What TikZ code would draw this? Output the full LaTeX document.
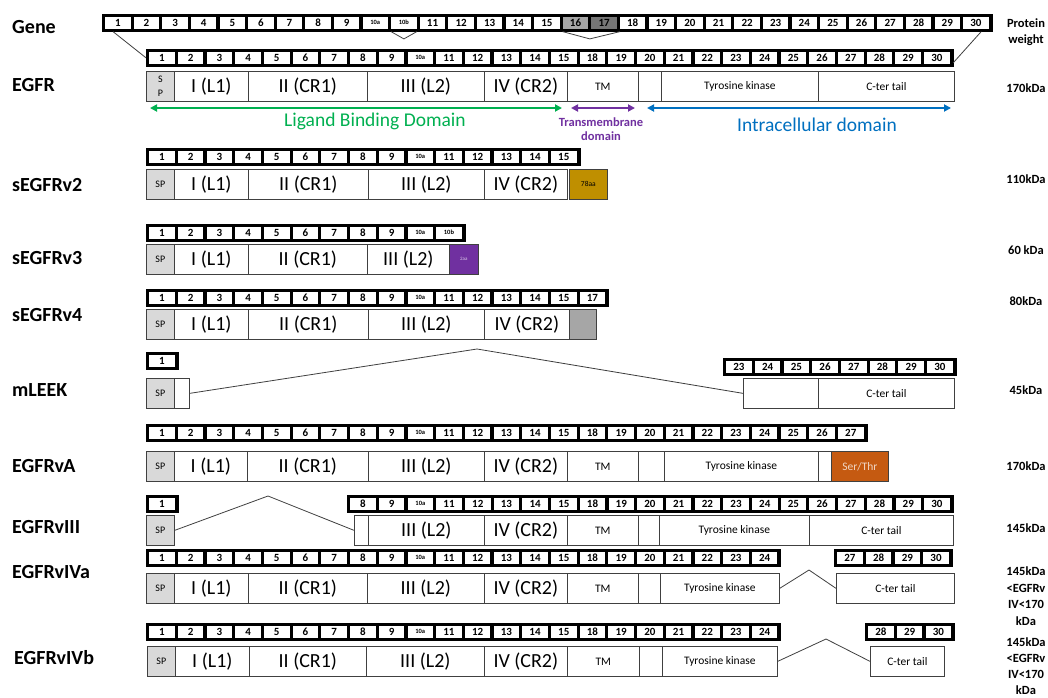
\documentclass[tikz,border=0pt]{standalone}
\usepackage{fontspec}
\setmainfont{Carlito}
\usetikzlibrary{arrows.meta,calc}
\definecolor{lbdgreen}{HTML}{00B050}
\definecolor{tmpurple}{HTML}{7030A0}
\definecolor{icblue}{HTML}{0070C0}
\definecolor{spgray}{HTML}{D9D9D9}
\definecolor{goldbox}{HTML}{BF8F00}
\definecolor{purplebox}{HTML}{7030A0}
\definecolor{graybox}{HTML}{A6A6A6}
\definecolor{serthr}{HTML}{C55A11}
\definecolor{exsixteen}{HTML}{A6A6A6}
\definecolor{exseventeen}{HTML}{767676}
\definecolor{boxline}{HTML}{404040}

\newcommand{\fs}[1]{\fontsize{#1}{#1}\selectfont}
\newcommand{\xa}{{\fs{6.5}10a}}
\newcommand{\xb}{{\fs{6.5}10b}}

\tikzset{
  stripbg/.style={draw=black, fill=black, line width=0.6pt, inner sep=0pt, minimum height=17pt},
  cell/.style={fill=white, inner sep=0pt, minimum height=12pt, font=\fs{11}\bfseries},
  dom/.style={draw=boxline, line width=0.7pt, fill=white, inner sep=0pt, minimum height=30pt, font=\fs{11.5}, align=center},
  big/.style={font=\fs{20}},
  spbox/.style={fill=spgray, font=\fs{10}},
  rowlab/.style={anchor=west, font=\fs{20}\bfseries, inner sep=0pt},
  kda/.style={font=\fontsize{12.5}{16.5}\selectfont\bfseries, inner sep=0pt, align=center},
  splice/.style={draw=boxline, line width=0.8pt},
  domarrow/.style={line width=2pt, {Triangle[length=7pt,width=7pt]}-{Triangle[length=7pt,width=7pt]}},
  gene cell 17/.style={fill=exsixteen},
  gene cell 18/.style={fill=exseventeen},
}

% #1 name, #2 x0, #3 ytop, #4 pitch, #5 labels
\newcommand{\exstrip}[5]{%
  \foreach \lab [count=\k] in {#5} {\xdef\ncells{\k}}%
  \node[stripbg, minimum width={\ncells*#4+3}, anchor=north west] (#1) at (#2,#3) {};%
  \foreach \lab [count=\k] in {#5} {%
    \edef\tmpcmd{\noexpand\node[cell, minimum width={#4-3.2}, anchor=north west, #1 cell \k/.try] (#1-\k) at ({#2+3+(\k-1)*#4},{#3+2.5})}%
    \tmpcmd {\lab};%
  }%
}
% [opts] name x1 x2 ytop text
\newcommand{\dbox}[6][]{\node[dom, #1, minimum width={#4-#3}, anchor=north west] (#2) at (#3,#5) {#6};}

\begin{document}
\begin{tikzpicture}[x=1pt,y=-1pt]
\fill[white] (0,0) rectangle (1048,697);
\useasboundingbox (0,0) rectangle (1048,697);

% row labels
\node[rowlab] (l-gene) at (12,27) {Gene};
\node[rowlab] (l-egfr) at (12,85) {EGFR};
\node[rowlab] (l-v2) at (12,185) {sEGFRv2};
\node[rowlab] (l-v3) at (12,258) {sEGFRv3};
\node[rowlab] (l-v4) at (12,315) {sEGFRv4};
\node[rowlab] (l-lk) at (12,390) {mLEEK};
\node[rowlab] (l-va) at (12,466) {EGFRvA};
\node[rowlab] (l-v8) at (12,527) {EGFRvIII};
\node[rowlab] (l-iva) at (12,572) {EGFRvIVa};
\node[rowlab] (l-ivb) at (14,658) {EGFRvIVb};

% right labels
\node[kda] (w-head) at (1026,32) {Protein\\weight};
\node[kda] (w-egfr) at (1026,88) {170kDa};
\node[kda] (w-v2) at (1026,179) {110kDa};
\node[kda] (w-v3) at (1026,250) {60 kDa};
\node[kda] (w-v4) at (1026,301) {80kDa};
\node[kda] (w-lk) at (1026,390) {45kDa};
\node[kda] (w-va) at (1026,466) {170kDa};
\node[kda] (w-v8) at (1026,528) {145kDa};
\node[kda] (w-iva) at (1026,596) {145kDa\\<EGFRv\\IV<170\\kDa};
\node[kda, font=\fontsize{12.5}{16}\selectfont\bfseries] (w-ivb) at (1026,666) {145kDa\\<EGFRv\\IV<170\\kDa};

% ---------- Gene ----------
\exstrip{gene}{102}{14}{28.6}{1,2,3,4,5,6,7,8,9,\xa,\xb,11,12,13,14,15,16,17,18,19,20,21,22,23,24,25,26,27,28,29,30}

% ---------- EGFR ----------
\exstrip{egfr}{146}{49}{28.7}{1,2,3,4,5,6,7,8,9,\xa,11,12,13,14,15,18,19,20,21,22,23,24,25,26,27,28,29,30}
\dbox[spbox, font=\fontsize{10}{14}\selectfont]{e-sp}{146}{174}{71}{S\\P}
\dbox[big]{e-1}{174}{248}{71}{I (L1)}
\dbox[big]{e-2}{248}{367}{71}{II (CR1)}
\dbox[big]{e-3}{367}{484}{71}{III (L2)}
\dbox[big]{e-4}{484}{567}{71}{IV (CR2)}
\dbox{e-tm}{567}{638}{71}{TM}
\dbox{e-b}{638}{661}{71}{}
\dbox{e-tk}{661}{818}{71}{Tyrosine kinase}
\dbox{e-ct}{818}{954}{71}{C-ter tail}

\draw[splice] ($(gene.south west)+(11,0)$) -- (egfr.west);
\draw[splice] ($(gene.south east)+(-11,0)$) -- ($(egfr.east)+(0,5)$);
\draw[splice] (gene-11.south west |- gene.south) -- ($(gene-11.south)+(0,10)$) -- (gene-11.south east |- gene.south);
\draw[splice] (gene-17.south west |- gene.south) -- ($(gene-17.south east)!0.5!(gene-18.south west)+(0,10)$) -- ($(gene-18.south east |- gene.south)+(3,0)$);

\coordinate (lbd-l) at (150,108);
\coordinate (lbd-r) at (562,108);
\coordinate (tmd-l) at (571,108);
\coordinate (tmd-r) at (635,108);
\coordinate (icd-l) at (647,108);
\coordinate (icd-r) at (951,108);
\draw[domarrow, lbdgreen] (lbd-l) -- (lbd-r);
\draw[domarrow, tmpurple] (tmd-l) -- (tmd-r);
\draw[domarrow, icblue] (icd-l) -- (icd-r);
\node[text=lbdgreen, font=\fs{19.5}, inner sep=0pt] (lbd) at (375,121) {Ligand Binding Domain};
\node[text=tmpurple, font=\fontsize{12.5}{14}\selectfont\bfseries, align=center, inner sep=0pt] (tmd) at (601,129) {Transmembrane\\domain};
\node[text=icblue, font=\fs{19.5}, inner sep=0pt] (icd) at (817,125) {Intracellular domain};

% ---------- sEGFRv2 ----------
\exstrip{vtwo}{146}{148}{28.7}{1,2,3,4,5,6,7,8,9,\xa,11,12,13,14,15}
\dbox[spbox]{v2-sp}{146}{174}{169}{SP}
\dbox[big]{v2-1}{174}{248}{169}{I (L1)}
\dbox[big]{v2-2}{248}{368}{169}{II (CR1)}
\dbox[big]{v2-3}{368}{484}{169}{III (L2)}
\dbox[big]{v2-4}{484}{567}{169}{IV (CR2)}
\dbox[fill=goldbox, font=\fs{7.5}]{v2-x}{569}{607}{169}{78aa}

% ---------- sEGFRv3 ----------
\exstrip{vthree}{146}{224}{28.7}{1,2,3,4,5,6,7,8,9,\xa,\xb}
\dbox[spbox]{v3-sp}{146}{174}{244}{SP}
\dbox[big]{v3-1}{174}{248}{244}{I (L1)}
\dbox[big]{v3-2}{248}{367}{244}{II (CR1)}
\dbox[big]{v3-3}{367}{449}{244}{III (L2)}
\dbox[fill=purplebox, text=white!75!purplebox, font=\fs{5}]{v3-x}{449}{478}{244}{2aa}

% ---------- sEGFRv4 ----------
\exstrip{vfour}{146}{289}{28.7}{1,2,3,4,5,6,7,8,9,\xa,11,12,13,14,15,17}
\dbox[spbox]{v4-sp}{146}{174}{309}{SP}
\dbox[big]{v4-1}{174}{248}{309}{I (L1)}
\dbox[big]{v4-2}{248}{368}{309}{II (CR1)}
\dbox[big]{v4-3}{368}{484}{309}{III (L2)}
\dbox[big]{v4-4}{484}{569}{309}{IV (CR2)}
\dbox[fill=graybox]{v4-x}{569}{596}{309}{}

% ---------- mLEEK ----------
\exstrip{lkone}{146}{352}{28.7}{1}
\exstrip{lktwo}{723}{358}{28.7}{23,24,25,26,27,28,29,30}
\dbox[spbox]{lk-sp}{146}{174}{378}{SP}
\dbox{lk-b1}{174}{189}{378}{}
\dbox{lk-b2}{743}{818}{378}{}
\dbox{lk-ct}{818}{954}{378}{C-ter tail}
\coordinate (lk-apex) at (477,349);
\draw[splice] (lk-b1.east) -- (lk-apex) -- (lk-b2.west);

% ---------- EGFRvA ----------
\exstrip{va}{146}{424}{28.7}{1,2,3,4,5,6,7,8,9,\xa,11,12,13,14,15,18,19,20,21,22,23,24,25,26,27}
\dbox[spbox]{va-sp}{146}{174}{451}{SP}
\dbox[big]{va-1}{174}{247}{451}{I (L1)}
\dbox[big]{va-2}{247}{368}{451}{II (CR1)}
\dbox[big]{va-3}{368}{484}{451}{III (L2)}
\dbox[big]{va-4}{484}{567}{451}{IV (CR2)}
\dbox{va-tm}{567}{638}{451}{TM}
\dbox{va-b}{638}{664}{451}{}
\dbox{va-tk}{664}{818}{451}{Tyrosine kinase}
\dbox{va-b2}{818}{831}{451}{}
\dbox[fill=serthr, text=white!75!serthr]{va-st}{831}{888}{451}{Ser/Thr}

% ---------- EGFRvIII ----------
\exstrip{viiione}{146}{495}{28.7}{1}
\exstrip{viii}{347}{495}{28.7}{8,9,\xa,11,12,13,14,15,18,19,20,21,22,23,24,25,26,27,28,29,30}
\dbox[spbox]{v8-sp}{146}{174}{515}{SP}
\dbox{v8-b}{354}{368}{515}{}
\dbox[big]{v8-3}{368}{484}{515}{III (L2)}
\dbox[big]{v8-4}{484}{567}{515}{IV (CR2)}
\dbox{v8-tm}{567}{638}{515}{TM}
\dbox{v8-b2}{638}{659}{515}{}
\dbox{v8-tk}{659}{809}{515}{Tyrosine kinase}
\dbox{v8-ct}{809}{953}{515}{C-ter tail}
\coordinate (v8-apex) at (268,496);
\draw[splice] (v8-sp.east) -- (v8-apex) -- (v8-b.west);

% ---------- EGFRvIVa ----------
\exstrip{ivaone}{146}{549}{28.7}{1,2,3,4,5,6,7,8,9,\xa,11,12,13,14,15,18,19,20,21,22,23,24}
\exstrip{ivatwo}{834}{549}{28.7}{27,28,29,30}
\dbox[spbox]{a-sp}{146}{174}{573}{SP}
\dbox[big]{a-1}{174}{248}{573}{I (L1)}
\dbox[big]{a-2}{248}{367}{573}{II (CR1)}
\dbox[big]{a-3}{367}{484}{573}{III (L2)}
\dbox[big]{a-4}{484}{567}{573}{IV (CR2)}
\dbox{a-tm}{567}{638}{573}{TM}
\dbox{a-b}{638}{660}{573}{}
\dbox{a-tk}{660}{779}{573}{Tyrosine kinase}
\dbox{a-ct}{836}{954}{573}{C-ter tail}
\coordinate (a-apex) at (809,570);
\draw[splice] (a-tk.east) -- (a-apex) -- (a-ct.west);

% ---------- EGFRvIVb ----------
\exstrip{ivbone}{146}{623}{28.7}{1,2,3,4,5,6,7,8,9,\xa,11,12,13,14,15,18,19,20,21,22,23,24}
\exstrip{ivbtwo}{865}{623}{28.7}{28,29,30}
\dbox[spbox]{b-sp}{147}{175}{646}{SP}
\dbox[big]{b-1}{175}{249}{646}{I (L1)}
\dbox[big]{b-2}{249}{366}{646}{II (CR1)}
\dbox[big]{b-3}{366}{484}{646}{III (L2)}
\dbox[big]{b-4}{484}{567}{646}{IV (CR2)}
\dbox{b-tm}{567}{639}{646}{TM}
\dbox{b-b}{639}{662}{646}{}
\dbox{b-tk}{662}{777}{646}{Tyrosine kinase}
\dbox{b-ct}{870}{944}{646}{C-ter tail}
\coordinate (b-apex) at (826,639);
\draw[splice] (b-tk.east) -- (b-apex) -- (b-ct.west);

\end{tikzpicture}
\end{document}
